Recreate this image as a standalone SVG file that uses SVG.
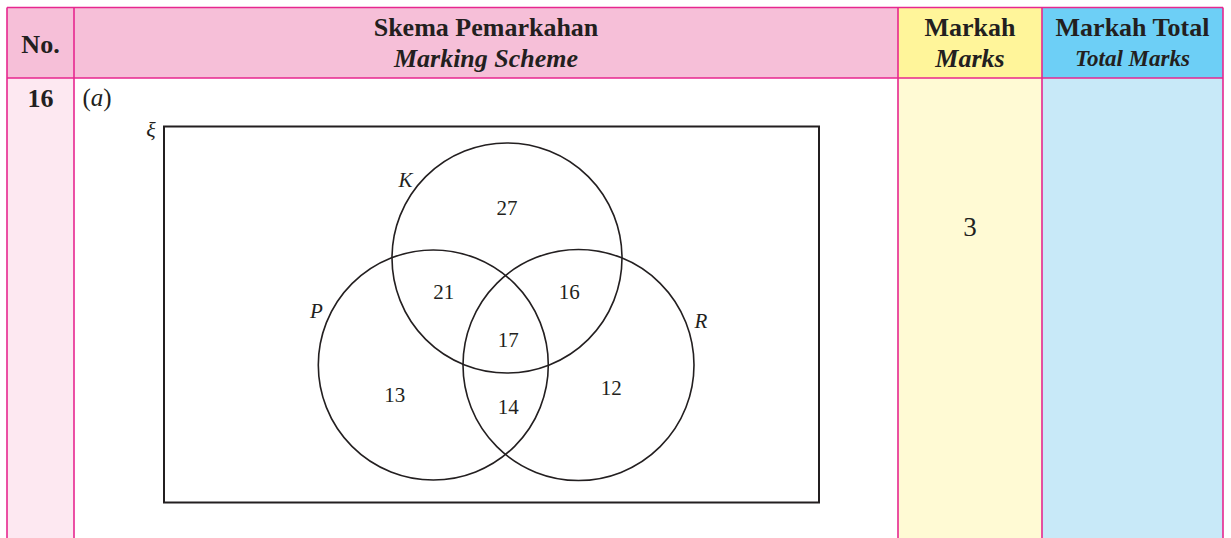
<svg xmlns="http://www.w3.org/2000/svg" width="1231" height="538" viewBox="0 0 1231 538">
<style>
.grid{stroke:#e7278f;stroke-width:1.6;fill:none}
.hb{font-family:"Liberation Serif",serif;font-weight:bold;font-size:26px;fill:#231f20;text-anchor:middle}
.hi{font-family:"Liberation Serif",serif;font-weight:bold;font-style:italic;font-size:26px;fill:#231f20;text-anchor:middle}
.num{font-family:"Liberation Serif",serif;font-size:21px;fill:#231f20;text-anchor:middle}
.lbl{font-family:"Liberation Serif",serif;font-style:italic;font-size:21px;fill:#231f20;text-anchor:middle}
.circ{fill:none;stroke:#231f20;stroke-width:1.6}
</style>
<rect width="1231" height="538" fill="#ffffff"/>
<g id="table">
<rect x="7" y="7.5" width="67" height="70.5" fill="#f6bfd8"/>
<rect x="74" y="7.5" width="824" height="70.5" fill="#f6bfd8"/>
<rect x="898" y="7.5" width="144" height="70.5" fill="#fff59a"/>
<rect x="1042" y="7.5" width="181" height="70.5" fill="#6dcff6"/>
<rect x="7" y="78" width="67" height="470" fill="#fde8f1"/>
<rect x="898" y="78" width="144" height="470" fill="#fffad4"/>
<rect x="1042" y="78" width="181" height="470" fill="#c8e9f8"/>
<path class="grid" d="M7,7.5 H1223 M7,78 H1223 M7,7.5 V548 M74,7.5 V548 M898,7.5 V548 M1042,7.5 V548 M1223,7.5 V548"/>
<text class="hb" x="40.5" y="52.5">No.</text>
<text class="hb" x="486" y="36">Skema Pemarkahan</text>
<text class="hi" x="486" y="66.5">Marking Scheme</text>
<text class="hb" x="970" y="36">Markah</text>
<text class="hi" x="970" y="66.5">Marks</text>
<text class="hb" x="1132.5" y="36">Markah Total</text>
<text class="hi" x="1132.5" y="65.5" style="font-size:23px">Total Marks</text>
<text class="hb" x="40.5" y="106.5">16</text>
<text x="82.5" y="106" style="font-family:'Liberation Serif',serif;font-size:25px;fill:#231f20">(<tspan font-style="italic">a</tspan>)</text>
<text x="970" y="235.5" style="font-family:'Liberation Serif',serif;font-size:27px;fill:#231f20;text-anchor:middle">3</text>
</g>
<g id="universe">
<rect x="164" y="126.5" width="655" height="376" fill="none" stroke="#231f20" stroke-width="2"/>
<text class="lbl" x="151" y="137" style="font-size:22px">ξ</text>
</g>
<g id="set-K">
<circle class="circ" cx="507" cy="258" r="115"/>
<text class="lbl" x="405.5" y="186.5">K</text>
</g>
<g id="set-P">
<circle class="circ" cx="433.3" cy="365" r="115"/>
<text class="lbl" x="316.5" y="318">P</text>
</g>
<g id="set-R">
<circle class="circ" cx="578.5" cy="365" r="115.5"/>
<text class="lbl" x="701" y="328">R</text>
</g>
<g id="values">
<text class="num" x="507" y="215">27</text>
<text class="num" x="443.7" y="298.5">21</text>
<text class="num" x="569.3" y="298.5">16</text>
<text class="num" x="508.3" y="346.5">17</text>
<text class="num" x="394.7" y="401.5">13</text>
<text class="num" x="508.3" y="413.5">14</text>
<text class="num" x="611.2" y="395">12</text>
</g>
</svg>
